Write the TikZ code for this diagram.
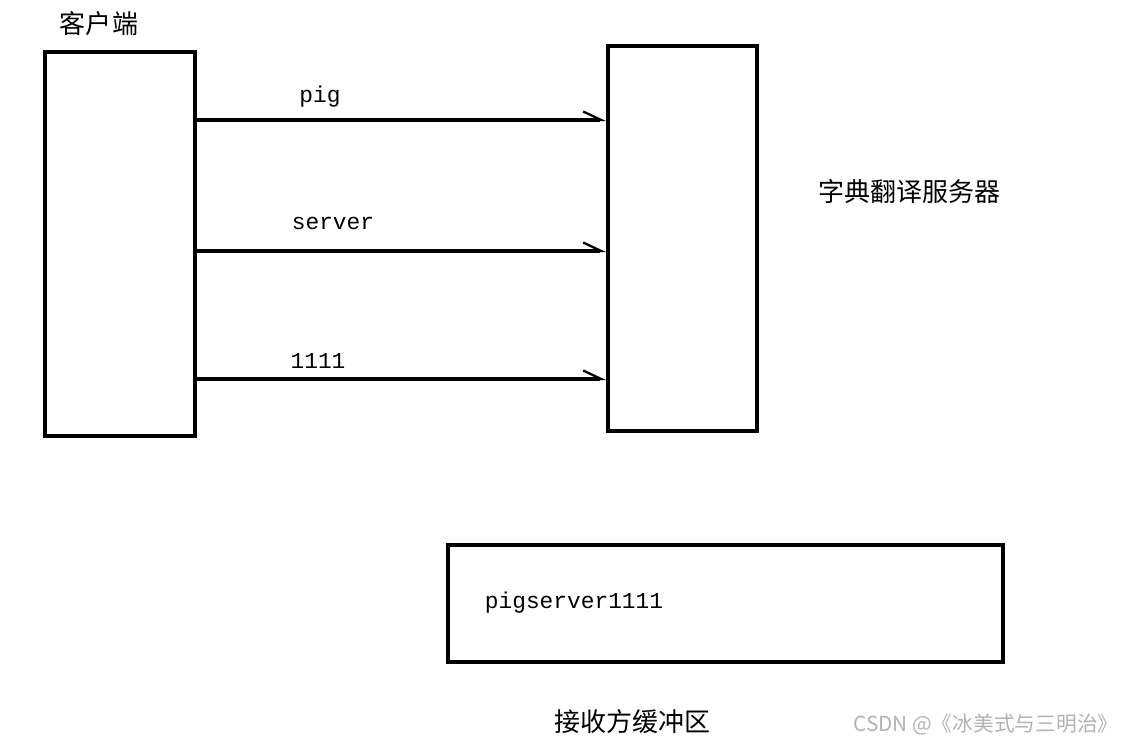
\documentclass[tikz,border=0pt]{standalone}
\usepackage{fontspec}
\setmainfont{Liberation Serif}
\newfontfamily\cjk{Noto Sans CJK SC}
\newfontfamily\latin{Liberation Mono}
\usetikzlibrary{arrows.meta}

\begin{document}
\begin{tikzpicture}[x=0.02cm, y=-0.02cm,
    box/.style={draw, line width=2pt, inner sep=0pt},
    msg/.style={line width=1.8pt, -{Straight Barb[left, length=0.36cm, width=0.34cm, line width=1.3pt]}},
    zh/.style={font=\cjk\fontsize{14.8pt}{16pt}\selectfont, inner sep=0pt},
    txt/.style={font=\latin\fontsize{13pt}{15pt}\selectfont, inner sep=0pt}]

    % Marco de la imagen (mismas proporciones que la referencia)
    \useasboundingbox (0,0) rectangle (1135,746);

    % 1. Cliente y servidor de traducción
    \node[box, minimum width=3cm, minimum height=7.68cm] (client) at (120,244) {};
    \node[zh] (clientlabel) at (99,24) {客户端};

    \node[box, minimum width=2.98cm, minimum height=7.7cm] (server) at (682.5,238.5) {};
    \node[zh] (serverlabel) at (909,192) {字典翻译服务器};

    % 2. Mensajes enviados por el cliente
    \draw[msg] (client.east |- 0,120) -- (server.west |- 0,120);
    \node[txt] (m1) at (320,97) {pig};

    \draw[msg] (client.east |- 0,251) -- (server.west |- 0,251);
    \node[txt] (m2) at (333,223) {server};

    \draw[msg] (client.east |- 0,379) -- (server.west |- 0,379);
    \node[txt] (m3) at (318,361) {1111};

    % 3. Buffer del receptor
    \node[box, minimum width=11.1cm, minimum height=2.34cm] (buffer) at (725.5,603.5) {};
    \node[txt] (content) at (574,603) {pigserver1111};
    \node[zh] (bufferlabel) at (632,722) {接收方缓冲区};

    % Marca de agua
    \node[font=\cjk\fontsize{11.8pt}{13pt}\selectfont, text=black!30, inner sep=0pt] (mark) at (986,725) {CSDN @《冰美式与三明治》};

\end{tikzpicture}
\end{document}
